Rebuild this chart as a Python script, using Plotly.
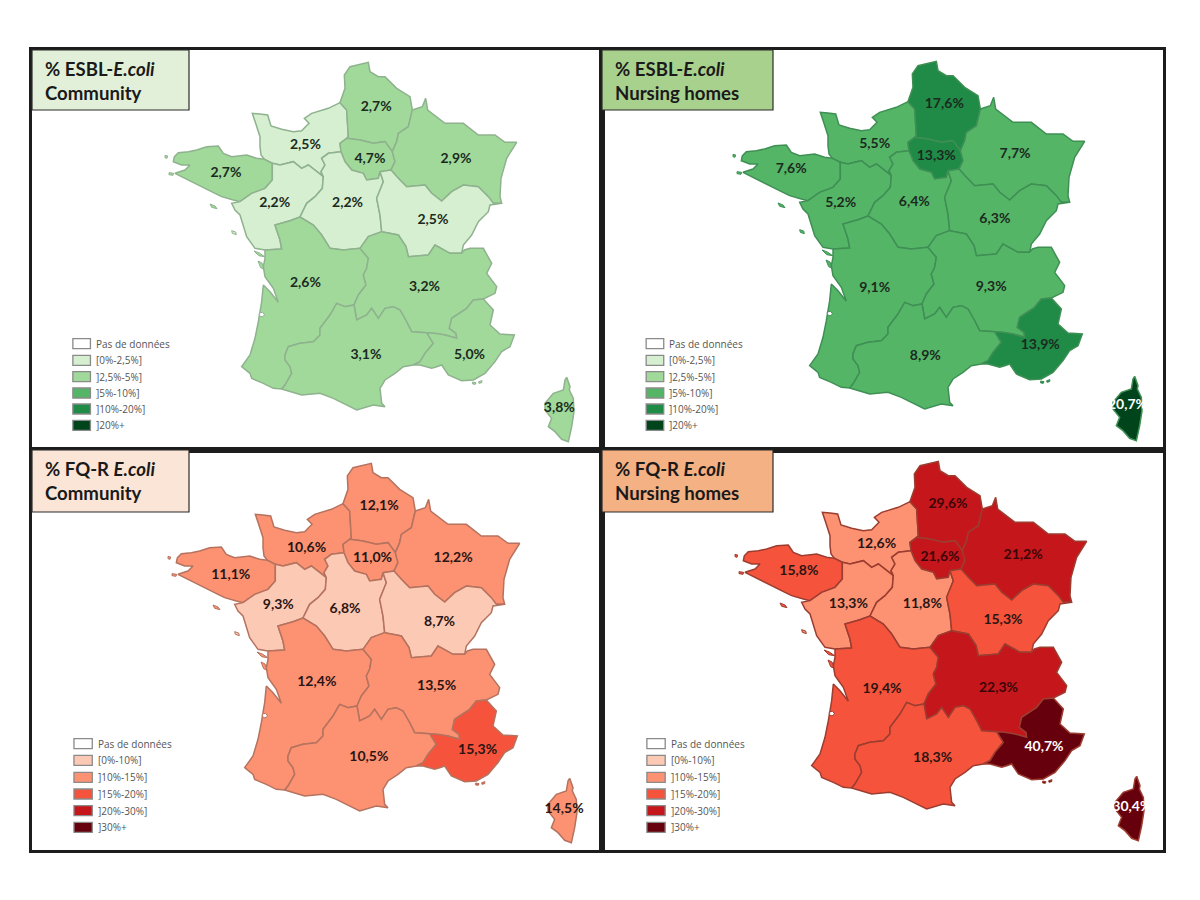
import plotly.graph_objects as go

# ---------- data ----------
REGION_NAMES = ["NOR", "HDF", "IDF", "GE", "BRE", "PDL", "CVL", "BFC", "NAQ", "ARA", "OCC", "PACA", "COR"]
ESBL_COMMUNITY = [2.5, 2.7, 4.7, 2.9, 2.7, 2.2, 2.2, 2.5, 2.6, 3.2, 3.1, 5.0, 3.8]
ESBL_NURSING = [5.5, 17.6, 13.3, 7.7, 7.6, 5.2, 6.4, 6.3, 9.1, 9.3, 8.9, 13.9, 20.7]
FQR_COMMUNITY = [10.6, 12.1, 11.0, 12.2, 11.1, 9.3, 6.8, 8.7, 12.4, 13.5, 10.5, 15.3, 14.5]
FQR_NURSING = [12.6, 29.6, 21.6, 21.2, 15.8, 13.3, 11.8, 15.3, 19.4, 22.3, 18.3, 40.7, 30.4]

ESBL_BINS = [2.5, 5, 10, 20]
FQR_BINS = [10, 15, 20, 30]
GREENS = ["#d6efd0", "#a1d99b", "#55b567", "#1f8b47", "#00441b"]
REDS = ["#fcc9b5", "#fc9272", "#f5533b", "#c5161c", "#67000d"]
ESBL_LEGEND = ["Pas de données", "[0%-2,5%]", "]2,5%-5%]", "]5%-10%]", "]10%-20%]", "]20%+"]
FQR_LEGEND = ["Pas de données", "[0%-10%]", "]10%-15%]", "]15%-20%]", "]20%-30%]", "]30%+"]


# map geometry: traced in four views of the first map, each with its own origin
def view(ox, oy):
    return lambda pts: [(ox + a / 3, oy + b / 3) for a, b in pts]


A, B, C, D = view(165, 100), view(335, 55), view(230, 225), view(370, 230)


def rev(pts):
    return pts[::-1]


# shared borders
bre_n = A([(28,170),(40,158),(70,155),(95,150),(125,140),(160,138),(175,160),(200,170),(245,165),(275,175),(298,178)])
nor_bre = A([(298,178),(322,190)])
bre_pdl = A([(322,190),(322,240),(300,265),(260,280),(225,305)])
bre_s = A([(225,305),(205,300),(170,290),(150,280),(120,265),(90,250),(60,235),(30,220),(60,210),(75,195),(50,195),(25,185),(28,170)])
nor_coast = A([(298,178),(288,165),(285,140),(285,110),(272,70),(262,40),(285,42),(308,45),(318,78),(350,88),(385,95),(410,92),(432,70),(418,55),(440,40),(490,25),(525,8)])
nor_hdf = B([(15,143),(35,165),(40,245),(35,250)])
nor_idf = B([(35,250),(15,265),(18,290)])
nor_cvl = B([(18,290)]) + A([(490,160),(470,175),(480,195),(468,215),(475,230)])
nor_pdl = A([(475,230),(455,215),(430,195),(410,205),(385,185),(345,195),(322,190)])
hdf_n = B([(232,165),(225,125),(185,100),(150,65),(130,65),(105,50),(100,22),(45,35),(28,60),(30,100),(15,143)])
hdf_idf = B([(35,250),(75,255),(115,265),(150,260),(172,290)])
hdf_ge = B([(172,290),(185,260),(190,235),(220,215),(232,165)])
idf_ge = B([(172,290),(180,320),(168,345)])
idf_bfc = B([(168,345),(135,350)])
idf_cvl = B([(135,350),(130,370),(95,375),(85,355),(50,345),(30,320),(18,290)])
ge_bfc = B([(168,345),(190,370),(215,395),(270,390),(290,415),(320,438),(350,410),(385,390),(430,395),(460,425),(475,445),(500,445)])
ge_e = B([(500,445),(495,425),(498,370),(515,310),(545,262),(510,262),(480,240),(430,240),(385,205),(330,205),(278,165),(272,130),(262,155),(232,165)])
bfc_e = B([(500,445),(465,450),(460,470),(430,500),(410,540),(385,570)]) + D([(275,70)])
bfc_ara = D([(275,70),(240,70),(195,45),(175,75),(115,80),(108,50),(85,15),(60,10)]) + B([(140,530)])
bfc_cvl = B([(140,530),(135,480),(125,430),(145,380),(135,350)])
cvl_ara = B([(140,530),(100,545)]) + C([(390,70)])
cvl_naq = C([(390,70),(340,75),(300,70),(275,30),(250,0),(210,-24)])
pdl_cvl = A([(475,230),(472,265),(450,290),(425,310)]) + C([(210,-24)])
pdl_naq = C([(210,-24)]) + A([(375,362),(330,375)]) + C([(150,45),(155,72),(105,75)])
pdl_coast = C([(105,75),(75,70),(50,35)]) + A([(235,375),(225,345),(210,330),(200,310),(225,305)])
naq_ara = C([(390,70),(415,100),(410,130),(400,150),(408,180),(385,210),(372,240)])
naq_occ = C([(372,240),(345,245),(320,235),(300,270),(270,310),(270,330),(250,350),(210,355),(175,365),(165,390),(165,405),(180,425),(185,445),(165,480),(155,492)])
naq_coast = C([(155,492),(130,490),(100,475),(65,460),(60,445),(35,425),(60,390),(75,340),(85,290),(95,230),(100,180),(120,200),(145,232),(130,190),(105,155),(100,125),(105,100),(105,75)])
ara_occ = C([(372,240),(380,285),(410,270),(425,250),(445,280),(465,250),(490,245),(510,255),(530,290)]) + D([(125,305),(170,308)])
occ_paca = D([(170,308),(190,340),(165,370),(150,395),(130,405)])
occ_coast = D([(130,405),(100,410),(75,430),(45,450),(30,475),(35,520),(45,530)]) + C([(430,540),(380,555),(350,540),(310,520),(270,505),(215,510),(155,492)])
ara_e = D([(275,70),(283,60),(300,55),(340,55),(365,100),(350,130),(380,170),(375,190),(340,207)])
ara_paca = D([(340,207),(310,210),(290,235),(245,265),(238,295),(258,310),(260,325),(225,315),(195,310),(170,308)])
paca_coast = D([(340,207),(370,240),(360,285),(390,312),(433,315),(420,350),(395,365),(375,395),(345,430),(310,450),(275,452),(235,435),(215,405),(200,410),(185,415),(150,405),(130,405)])

# region outlines, built from the borders
NOR = nor_coast + nor_hdf + nor_idf + nor_cvl + nor_pdl + rev(nor_bre)
HDF = hdf_n + nor_hdf + hdf_idf + hdf_ge
IDF = hdf_idf + idf_ge + idf_bfc + idf_cvl + rev(nor_idf)
GE = rev(hdf_ge) + idf_ge + ge_bfc + ge_e
BRE = bre_n + nor_bre + bre_pdl + bre_s
PDL = rev(nor_pdl) + pdl_cvl + pdl_naq + pdl_coast + rev(bre_pdl)
CVL = rev(idf_cvl) + rev(bfc_cvl) + cvl_ara + cvl_naq + rev(pdl_cvl) + rev(nor_cvl)
BFC = rev(idf_bfc) + ge_bfc + bfc_e + bfc_ara + bfc_cvl
NAQ = rev(pdl_naq) + rev(cvl_naq) + naq_ara + naq_occ + naq_coast
ARA = rev(cvl_ara) + rev(bfc_ara) + ara_e + ara_paca + rev(ara_occ) + rev(naq_ara)
OCC = rev(naq_occ) + ara_occ + occ_paca + occ_coast
PACA = rev(ara_paca) + paca_coast + rev(occ_paca)
COR = D([(590,442),(600,470),(598,480),(610,505),(612,545),(605,590),(595,635),(575,628),(555,605),(535,590),(545,565),(525,540),(525,520),(550,490),(580,480),(585,450)])
OUTLINES = [NOR, HDF, IDF, GE, BRE, PDL, CVL, BFC, NAQ, ARA, OCC, PACA, COR]

# small islands, with the index of the region they belong to
ISLANDS = [
    (4, A([(0,166),(8,168),(6,175),(0,173)])),
    (4, A([(12,218),(26,220),(24,226),(12,224)])),
    (4, A([(135,312),(150,318),(156,326),(140,322)])),
    (5, A([(200,392),(212,396),(214,404),(202,400)])),
    (8, C([(72,78),(88,84),(104,95),(86,92)])),
    (8, C([(84,108),(96,114),(104,134),(92,128)])),
    (11, D([(308,456),(318,458),(316,463),(308,462)])),
    (11, D([(326,455),(336,452),(335,458),(327,460)])),
]
BASIN = C([(88,264),(98,262),(104,270),(96,276),(88,272)])

# value label positions read in each panel, in view units
LABELS_TL = [(752,293),(945,178),(928,333),(1163,333),(535,375),(668,467),(867,467),(1100,517),(752,705),(1077,718),(917,921),(1200,921),(1445,1082)]
LABELS_TR = [(750,288),(940,168),(918,325),(1133,318),(522,365),(657,466),(858,463),(1078,515),(750,722),(1068,718),(888,925),(1202,892),(1440,1073)]
LABELS_BL = [(755,300),(953,175),(935,330),(1155,330),(548,382),(678,473),(860,483),(1118,522),(783,702),(1110,715),(925,927),(1222,908),(1458,1085)]
LABELS_BR = [(755,288),(950,170),(928,328),(1155,322),(543,370),(678,470),(880,468),(1100,518),(770,725),(1088,722),(908,930),(1212,898),(1452,1078)]

LEGEND_Y_TOP = [887, 937, 986, 1035, 1083, 1132]
LEGEND_Y_BOT = [887, 937, 988, 1038, 1088, 1138]

PANELS = [
    dict(values=ESBL_COMMUNITY, bins=ESBL_BINS, colors=GREENS, legend=ESBL_LEGEND, labels=LABELS_TL, rect=(32,602,50,450), crop=(30,48), shift=(0,0),
         edge="#8fb28e", box="#e2f0d9", box_w=157, box_h=60, l1="% ESBL-<i>E.coli</i>", l2="Community", lx=(117,165,175), ly=LEGEND_Y_TOP),
    dict(values=ESBL_NURSING, bins=ESBL_BINS, colors=GREENS, legend=ESBL_LEGEND, labels=LABELS_TR, rect=(602,1163,50,450), crop=(600,48), shift=(568,-1),
         edge="#3f8f55", box="#a9d18e", box_w=171, box_h=60, l1="% ESBL-<i>E.coli</i>", l2="Nursing homes", lx=(126,174,183), ly=LEGEND_Y_TOP),
    dict(values=FQR_COMMUNITY, bins=FQR_BINS, colors=REDS, legend=FQR_LEGEND, labels=LABELS_BL, rect=(32,602,450,850), crop=(30,448), shift=(3,401),
         edge="#b5735f", box="#fbe5d6", box_w=157, box_h=62, l1="% FQ-R <i>E.coli</i>", l2="Community", lx=(120,170,179), ly=LEGEND_Y_BOT),
    dict(values=FQR_NURSING, bins=FQR_BINS, colors=REDS, legend=FQR_LEGEND, labels=LABELS_BR, rect=(602,1163,450,850), crop=(600,448), shift=(570,399),
         edge="#9c3d31", box="#f4b183", box_w=171, box_h=62, l1="% FQ-R <i>E.coli</i>", l2="Nursing homes", lx=(128,178,187), ly=LEGEND_Y_BOT),
]

SX, SY = 2.73, 3.0
W, H = 1200, 900
FONT = "Lato"


def bin_color(v, bins, colors):
    for edge, c in zip(bins, colors):
        if v <= edge:
            return c
    return colors[-1]


fig = go.Figure()
for i, p in enumerate(PANELS):
    n = "" if i == 0 else str(i + 1)
    xa, ya = "x" + n, "y" + n
    L, R, T, B_ = p["rect"]
    cx, cy = p["crop"]
    dx, dy = p["shift"]
    to_x = lambda z: cx + z / SX
    to_y = lambda z: cy + z / SY
    frame = dict(showgrid=False, zeroline=False, showticklabels=False, ticks="",
                 showline=True, mirror=True, linecolor="#1c1c1c", linewidth=2.6, fixedrange=True)
    fig.update_layout({
        "xaxis" + n: dict(domain=[L / W, R / W], range=[L, R], anchor=ya, **frame),
        "yaxis" + n: dict(domain=[1 - B_ / H, 1 - T / H], range=[B_, T], anchor=xa, **frame),
    })
    fills = [bin_color(v, p["bins"], p["colors"]) for v in p["values"]]

    def poly(pts, fill, edge, width=1.5):
        xs = [a + dx for a, _ in pts] + [pts[0][0] + dx]
        ys = [b + dy for _, b in pts] + [pts[0][1] + dy]
        fig.add_trace(go.Scatter(x=xs, y=ys, xaxis=xa, yaxis=ya, mode="lines", fill="toself",
                                 fillcolor=fill, line=dict(color=edge, width=width),
                                 hoverinfo="skip", showlegend=False))

    for ridx, pts in ISLANDS:
        poly(pts, fills[ridx], p["edge"], 1)
    for pts, fill in zip(OUTLINES, fills):
        poly(pts, fill, p["edge"])
    poly(BASIN, "#ffffff", p["edge"], 1)

    # value labels
    txt_cols = []
    for c in fills:
        if c in ("#00441b", "#67000d"):
            txt_cols.append("#ffffff")
        elif c == "#c5161c":
            txt_cols.append("#3b0508")
        elif c in GREENS:
            txt_cols.append("#1b2a1e")
        else:
            txt_cols.append("#2a1512")
    fig.add_trace(go.Scatter(
        x=[to_x(a) for a, _ in p["labels"]], y=[to_y(b) for _, b in p["labels"]], xaxis=xa, yaxis=ya,
        mode="text", text=[f"{v:.1f}%".replace(".", ",") for v in p["values"]],
        textposition="middle center",
        textfont=dict(family=FONT, size=14, color=txt_cols, weight=700),
        hoverinfo="skip", showlegend=False))

    # title box
    fig.add_shape(type="rect", xref=xa + " domain", yref=ya + " domain", x0=0, x1=p["box_w"] / (R - L),
                  y0=1, y1=1 - p["box_h"] / (B_ - T), fillcolor=p["box"], line=dict(color="#2b2b2b", width=1.2))
    fig.add_annotation(xref=xa + " domain", yref=ya + " domain", x=11 / (R - L), y=1 - 6 / (B_ - T),
                       xanchor="left", yanchor="top", align="left", showarrow=False,
                       text=f"<b>{p['l1']}</b><br><b>{p['l2']}</b>",
                       font=dict(family=FONT, size=18.6, color="#1a1a1a"))

    # legend
    x0, x1, xt = p["lx"]
    swatches = ["#ffffff"] + p["colors"]
    for y, label, col in zip(p["ly"], p["legend"], swatches):
        fig.add_shape(type="rect", xref=xa, yref=ya, x0=to_x(x0), x1=to_x(x1), y0=to_y(y - 15), y1=to_y(y + 15),
                      fillcolor=col, line=dict(color="#8a8a8a", width=1.3))
        fig.add_annotation(xref=xa, yref=ya, x=to_x(xt), y=to_y(y), xanchor="left", yanchor="middle", showarrow=False,
                           text=label, font=dict(family="Open Sans", size=10, color="#555555"))

fig.update_layout(width=W, height=H, margin=dict(l=0, r=0, t=0, b=0),
                  paper_bgcolor="white", plot_bgcolor="white", showlegend=False)
fig.write_html("out.html", config={"displayModeBar": False}, post_script="document.body.style.margin='0';")
